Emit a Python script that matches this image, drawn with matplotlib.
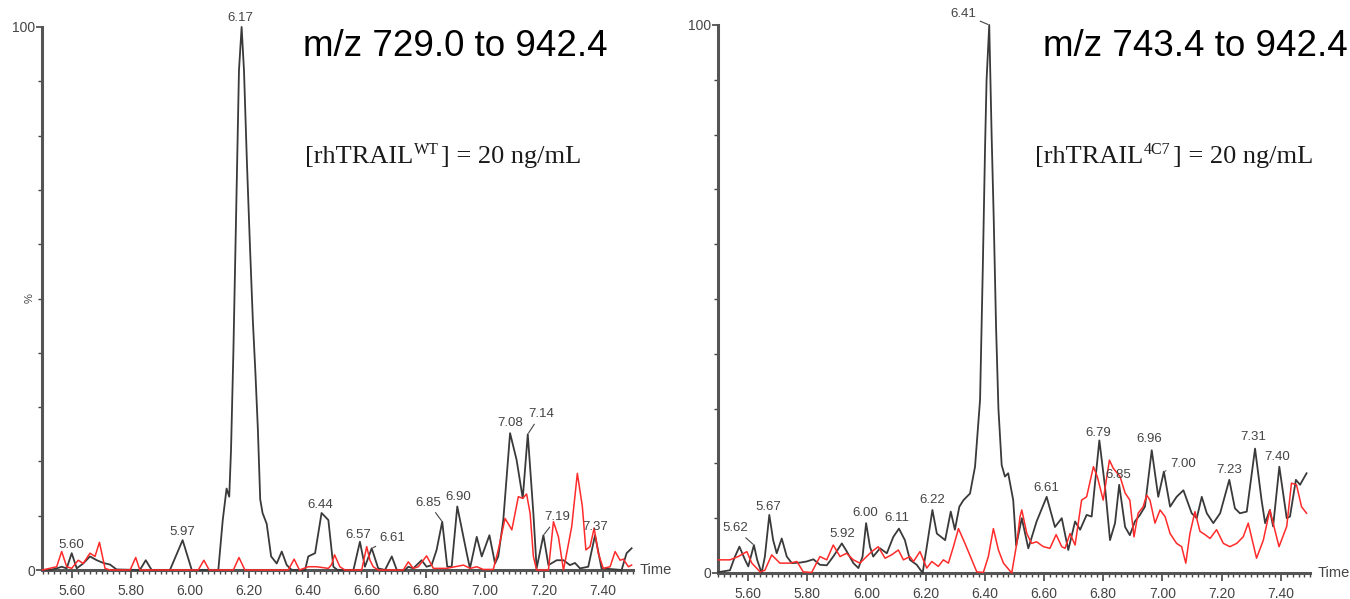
'''
Two ion chromatograms (m/z windows) for rhTRAIL WT and 4C7, 20 ng/mL.
Output: out.png
'''

import matplotlib
matplotlib.use('Agg')
import matplotlib.pyplot as plt
from matplotlib.ticker import MultipleLocator, FixedLocator, NullFormatter, FormatStrFormatter
import matplotlib.transforms as mtransforms

plt.rcParams['font.family'] = ['Liberation Sans', 'DejaVu Sans']

# ---- data (time in min, intensity in %) ----
# left panel, WT, m/z 729.0 to 942.4
wt_black_t = [5.500, 5.525, 5.548, 5.565, 5.582, 5.599, 5.616, 5.638, 5.661, 5.684,
              5.706, 5.729, 5.751, 5.830, 5.850, 5.870, 5.932, 5.975, 6.006, 6.096,
              6.111, 6.124, 6.133, 6.139, 6.147, 6.158, 6.166, 6.175, 6.183, 6.193,
              6.203, 6.213, 6.222, 6.230, 6.238, 6.246, 6.260, 6.275, 6.294, 6.311,
              6.328, 6.345, 6.390, 6.401, 6.424, 6.446, 6.469, 6.486, 6.500, 6.554,
              6.576, 6.593, 6.616, 6.638, 6.661, 6.684, 6.701, 6.729, 6.740, 6.757,
              6.785, 6.802, 6.819, 6.836, 6.855, 6.872, 6.887, 6.906, 6.938, 6.949,
              6.972, 6.989, 7.015, 7.034, 7.045, 7.062, 7.085, 7.107, 7.128, 7.145,
              7.164, 7.175, 7.198, 7.215, 7.243, 7.266, 7.288, 7.305, 7.322, 7.350,
              7.373, 7.395, 7.463, 7.480, 7.497]
wt_black_v = [0, 0, 0.3, 0.6, 0.3, 3.1, 0.3, 1.2, 2.5, 1.8,
              1.3, 1.0, 0.1, 0, 1.8, 0, 0, 5.5, 0, 0,
              9.2, 15.0, 13.5, 22.0, 40, 70, 92, 100, 92, 75,
              60, 46, 36, 26, 13, 10.5, 8.5, 2.5, 1.2, 3.4,
              0.9, 0, 0, 2.5, 3.1, 10.5, 9.2, 0.6, 0, 0,
              5.2, 0.6, 4.0, 0.3, 0, 2.5, 0, 0, 0.6, 0.3,
              1.8, 0.6, 0.9, 3.7, 8.9, 0.6, 0.6, 11.7, 3.1, 0.3,
              6.1, 2.5, 6.4, 1.2, 2.5, 9.2, 25.2, 20.3, 13.2, 25.0,
              10.4, 0.3, 6.4, 0.9, 1.8, 1.8, 0.9, 1.3, 0.3, 0.6,
              6.4, 0.3, 0, 3.1, 4.0]

wt_red_t = [5.500, 5.548, 5.565, 5.582, 5.599, 5.621, 5.638, 5.661, 5.678, 5.693,
            5.712, 5.729, 5.797, 5.816, 5.830, 6.028, 6.047, 6.065, 6.147, 6.166,
            6.186, 6.333, 6.353, 6.371, 6.401, 6.429, 6.469, 6.480, 6.490, 6.508,
            6.525, 6.582, 6.599, 6.610, 6.621, 6.638, 6.723, 6.740, 6.757, 6.774,
            6.802, 6.825, 6.870, 6.927, 6.950, 6.972, 6.994, 7.028, 7.045, 7.068,
            7.091, 7.113, 7.128, 7.141, 7.153, 7.164, 7.175, 7.215, 7.232, 7.249,
            7.266, 7.277, 7.294, 7.313, 7.330, 7.342, 7.356, 7.370, 7.384, 7.401,
            7.424, 7.441, 7.458, 7.469, 7.486, 7.497]
wt_red_v = [0, 0.6, 3.4, 0.6, 0.3, 1.8, 1.2, 3.1, 2.5, 5.1,
            0.3, 0, 0, 2.3, 0, 0, 1.8, 0, 0, 2.3,
            0, 0, 2.0, 0, 0.6, 0.6, 0.3, 1.0, 2.8, 0.6,
            0, 0, 4.3, 1.8, 0.6, 0, 0, 1.5, 0.3, 0.6,
            2.6, 0.3, 0.3, 0.9, 0.3, 0.6, 0.1, 0.1, 3.7, 9.5,
            7.4, 13.5, 13.2, 14.0, 10.4, 2.5, 0, 0, 8.9, 6.1,
            0, 3.1, 8.0, 17.8, 11.7, 3.7, 4.3, 7.7, 3.1, 0.3,
            0.6, 3.4, 1.8, 2.0, 0.6, 0.9]

wt_peak_labels = ['5.60', '5.97', '6.17', '6.44', '6.57', '6.61',
                  '6.85', '6.90', '7.08', '7.14', '7.19', '7.37']
wt_peak_t = [5.599, 5.975, 6.175, 6.446, 6.576, 6.616,
             6.855, 6.906, 7.085, 7.145, 7.198, 7.373]
wt_peak_v = [3.1, 5.5, 100, 10.5, 5.2, 4.0, 8.9, 11.7, 25.2, 25.0, 6.4, 6.4]

# right panel, 4C7, m/z 743.4 to 942.4
c7_black_t = [5.500, 5.505, 5.539, 5.556, 5.571, 5.590, 5.601, 5.620, 5.631, 5.646,
              5.657, 5.672, 5.685, 5.697, 5.714, 5.731, 5.748, 5.776, 5.798, 5.821,
              5.843, 5.866, 5.888, 5.917, 5.933, 5.956, 5.973, 5.987, 5.999, 6.012,
              6.023, 6.046, 6.069, 6.091, 6.110, 6.130, 6.147, 6.170, 6.190, 6.204,
              6.223, 6.238, 6.266, 6.285, 6.299, 6.314, 6.328, 6.350, 6.367, 6.384,
              6.393, 6.401, 6.406, 6.415, 6.423, 6.430, 6.438, 6.446, 6.457, 6.468,
              6.479, 6.496, 6.506, 6.525, 6.547, 6.575, 6.609, 6.637, 6.660, 6.682,
              6.705, 6.722, 6.744, 6.761, 6.787, 6.806, 6.823, 6.840, 6.854, 6.874,
              6.890, 6.907, 6.924, 6.941, 6.964, 6.986, 7.005, 7.026, 7.048, 7.071,
              7.099, 7.116, 7.133, 7.150, 7.172, 7.195, 7.226, 7.245, 7.262, 7.285,
              7.313, 7.335, 7.347, 7.363, 7.374, 7.395, 7.420, 7.431, 7.451, 7.465,
              7.487]
c7_black_v = [0.2, 0.2, 0.5, 3.0, 4.8, 2.4, 1.2, 5.1, 2.4, 0,
              3.0, 10.6, 6.0, 3.6, 6.3, 3.0, 1.8, 1.9, 2.1, 2.5,
              1.5, 1.4, 3.0, 5.4, 4.0, 1.8, 0.9, 3.0, 9.1, 4.8,
              3.0, 4.5, 3.6, 6.6, 8.1, 6.0, 2.4, 1.5, 0, 4.8,
              11.5, 7.2, 6.0, 11.2, 7.9, 12.1, 13.3, 14.5, 19.4, 31.6,
              55, 78, 90, 100, 80, 65, 45, 30, 19.7, 17.6,
              18.2, 13.3, 5.0, 10.0, 4.5, 9.4, 13.9, 8.4, 10.0, 4.2,
              9.4, 7.9, 10.6, 10.3, 24.2, 15.8, 6.0, 9.1, 16.1, 8.4,
              6.9, 9.4, 10.6, 12.1, 22.4, 13.9, 18.5, 12.1, 13.9, 15.1,
              10.9, 10.0, 13.9, 10.9, 9.1, 10.9, 17.0, 11.8, 10.9, 11.2,
              22.7, 13.3, 9.1, 11.5, 8.5, 19.4, 10.0, 10.3, 17.0, 16.1,
              18.2]

c7_red_t = [5.500, 5.539, 5.567, 5.596, 5.613, 5.641, 5.657, 5.680, 5.708, 5.742,
            5.765, 5.787, 5.815, 5.843, 5.866, 5.888, 5.911, 5.933, 5.956, 5.978,
            5.995, 6.018, 6.040, 6.063, 6.085, 6.108, 6.125, 6.147, 6.159, 6.181,
            6.204, 6.221, 6.243, 6.260, 6.277, 6.294, 6.311, 6.333, 6.356, 6.373,
            6.395, 6.412, 6.429, 6.446, 6.463, 6.491, 6.508, 6.519, 6.525, 6.542,
            6.558, 6.575, 6.598, 6.620, 6.641, 6.660, 6.671, 6.688, 6.705, 6.727,
            6.744, 6.767, 6.780, 6.800, 6.821, 6.834, 6.857, 6.874, 6.890, 6.904,
            6.918, 6.935, 6.947, 6.958, 6.975, 6.992, 7.009, 7.026, 7.048, 7.065,
            7.079, 7.093, 7.110, 7.127, 7.144, 7.161, 7.183, 7.206, 7.228, 7.251,
            7.273, 7.290, 7.318, 7.341, 7.363, 7.394, 7.420, 7.436, 7.453, 7.470,
            7.487]
c7_red_v = [2.4, 2.4, 3.0, 3.9, 1.8, 0.2, 0.5, 3.3, 1.8, 1.8,
            2.1, 0.2, 0.1, 3.0, 2.4, 5.1, 3.0, 3.6, 2.4, 1.8,
            2.7, 3.9, 4.8, 2.7, 3.3, 4.2, 2.4, 3.0, 2.1, 3.9,
            0.9, 2.1, 1.2, 2.4, 1.8, 4.8, 8.1, 5.4, 2.4, 0.2,
            0.1, 3.0, 8.1, 4.2, 1.8, 0, 5.4, 10.3, 11.5, 7.2,
            5.4, 5.7, 4.8, 4.5, 7.0, 4.8, 4.5, 7.2, 5.1, 13.3,
            13.9, 19.4, 17.6, 13.3, 20.6, 19.1, 17.6, 14.6, 13.3, 6.6,
            10.9, 12.1, 14.2, 13.3, 9.1, 11.5, 10.3, 7.2, 5.4, 4.8,
            1.8, 7.2, 11.2, 7.6, 7.0, 6.3, 7.9, 5.4, 4.8, 5.4,
            6.6, 9.1, 2.7, 6.0, 11.5, 4.8, 8.5, 16.4, 16.1, 12.1,
            10.9]

c7_peak_labels = ['5.62', '5.67', '5.92', '6.00', '6.11', '6.22', '6.41', '6.61',
                  '6.79', '6.85', '6.96', '7.00', '7.23', '7.31', '7.40']
c7_peak_t = [5.620, 5.672, 5.917, 5.999, 6.110, 6.223, 6.415, 6.609,
             6.787, 6.854, 6.964, 7.005, 7.226, 7.313, 7.395]
c7_peak_v = [5.1, 10.6, 5.4, 9.1, 8.1, 11.5, 100, 13.9,
             24.2, 16.1, 22.4, 18.5, 17.0, 22.7, 19.4]

# label offsets in pixels (dx, dy) and which ones get a leader line
wt_offsets = {'5.60': (0, 8), '5.97': (0, 8), '6.17': (-1, 9), '6.44': (-1, 8),
              '6.57': (-2, 7), '6.61': (21, 10), '6.85': (-14, 19), '6.90': (1, 9),
              '7.08': (0, 10), '7.14': (13, 20), '7.19': (14, 18), '7.37': (0, 8)}
wt_leaders = ['6.61', '6.85', '7.14', '7.19']
c7_offsets = {'5.62': (-19, 17), '5.67': (-1, 8), '5.92': (0, 9), '6.00': (-1, 10),
              '6.11': (-2, 11), '6.22': (0, 10), '6.41': (-26, 11), '6.61': (0, 9),
              '6.79': (-1, 7), '6.85': (-1, 10), '6.96': (-2, 11), '7.00': (19, 8),
              '7.23': (0, 10), '7.31': (-2, 12), '7.40': (-2, 10)}
c7_leaders = ['5.62', '6.41', '7.00']

W, H = 1350, 599
fig = plt.figure(figsize=(W / 100, H / 100), dpi=100)
fig.patch.set_facecolor('white')

ax1 = fig.add_axes([42.5 / W, 29 / H, 590 / W, 543 / H])
ax2 = fig.add_axes([718.4 / W, 26 / H, 592 / W, 548 / H])

grey = '#3a3a3a'
tick_grey = '#444444'


def style_axis(ax, pct_label):
    ax.set_xlim(5.50, 7.50)
    ax.set_ylim(0, 100)
    for s in ['top', 'right']:
        ax.spines[s].set_visible(False)
    for s in ['left', 'bottom']:
        ax.spines[s].set_linewidth(2.2)
        ax.spines[s].set_color('#555555')
    ax.xaxis.set_major_locator(FixedLocator([5.6, 5.8, 6.0, 6.2, 6.4, 6.6, 6.8, 7.0, 7.2, 7.4]))
    ax.xaxis.set_major_formatter(FormatStrFormatter('%.2f'))
    ax.xaxis.set_minor_locator(MultipleLocator(0.02))
    ax.yaxis.set_major_locator(FixedLocator([0, 100]))
    ax.yaxis.set_minor_locator(MultipleLocator(10))
    ax.yaxis.set_minor_formatter(NullFormatter())
    ax.tick_params(axis='x', which='major', length=6, width=1.2, color=tick_grey,
                   labelsize=10, labelcolor=tick_grey, pad=4)
    ax.tick_params(axis='x', which='minor', length=3, width=1.0, color=tick_grey)
    ax.tick_params(axis='y', which='major', length=4, width=1.2, color=tick_grey,
                   labelsize=10, labelcolor=tick_grey, pad=1)
    ax.tick_params(axis='y', which='minor', length=3, width=1.0, color=tick_grey)
    ax.text(1.012, 0, 'Time', transform=ax.transAxes, ha='left', va='center',
            fontsize=10.5, color=tick_grey)
    if pct_label:
        tr = mtransforms.blended_transform_factory(ax.transAxes, ax.transData)
        ax.text(-0.022, 50, '%', transform=tr, rotation=90, ha='center', va='center',
                fontsize=8, color=tick_grey)


def label_peaks(ax, labels, ts, vs, offsets, leaders):
    for lab, t, v in zip(labels, ts, vs):
        dx, dy = offsets[lab]
        props = None
        if lab in leaders:
            props = dict(arrowstyle='-', color=tick_grey, lw=0.8, shrinkA=1, shrinkB=1)
        ax.annotate(lab, xy=(t, v), xytext=(dx, dy), textcoords='offset pixels',
                    ha='center', va='center', fontsize=9.5, color=tick_grey,
                    arrowprops=props, annotation_clip=False)


def conc_text(x, y, sup):
    # "[rhTRAIL" + small raised superscript + "] = 20 ng/mL", serif
    serif = 'Liberation Serif'
    t1 = fig.text(x, y, '[rhTRAIL', fontsize=19, family=serif, color='#1a1a1a',
                  ha='left', va='baseline')
    t2 = plt.annotate(sup, xy=(1, y), xycoords=(t1, 'figure fraction'),
                      xytext=(0.5, 6.5), textcoords='offset points',
                      fontsize=11.5, family=serif, color='#1a1a1a',
                      ha='left', va='baseline')
    plt.annotate('] = 20 ng/mL', xy=(1, y), xycoords=(t2, 'figure fraction'),
                 xytext=(1.5, 0), textcoords='offset points',
                 fontsize=19, family=serif, color='#1a1a1a',
                 ha='left', va='baseline')


for ax in (ax1, ax2):
    style_axis(ax, ax is ax1)

for ax, bt, bv, rt, rv in [(ax1, wt_black_t, wt_black_v, wt_red_t, wt_red_v),
                           (ax2, c7_black_t, c7_black_v, c7_red_t, c7_red_v)]:
    ax.plot(bt, bv, color=grey, lw=1.3, clip_on=False, zorder=3,
            solid_joinstyle='round')
    ax.plot(rt, rv, color='#ff2a2a', lw=1.1, clip_on=False, zorder=3,
            solid_joinstyle='round')

label_peaks(ax1, wt_peak_labels, wt_peak_t, wt_peak_v, wt_offsets, wt_leaders)
label_peaks(ax2, c7_peak_labels, c7_peak_t, c7_peak_v, c7_offsets, c7_leaders)

# headings
fig.text(303 / W, 1 - 56 / H, 'm/z 729.0 to 942.4', fontsize=26.5, color='black',
         ha='left', va='baseline')
fig.text(1043 / W, 1 - 56 / H, 'm/z 743.4 to 942.4', fontsize=26.5, color='black',
         ha='left', va='baseline')
conc_text(305 / W, 1 - 163 / H, 'WT')
conc_text(1035 / W, 1 - 163 / H, '4C7')

plt.savefig('out.png', dpi=100)
